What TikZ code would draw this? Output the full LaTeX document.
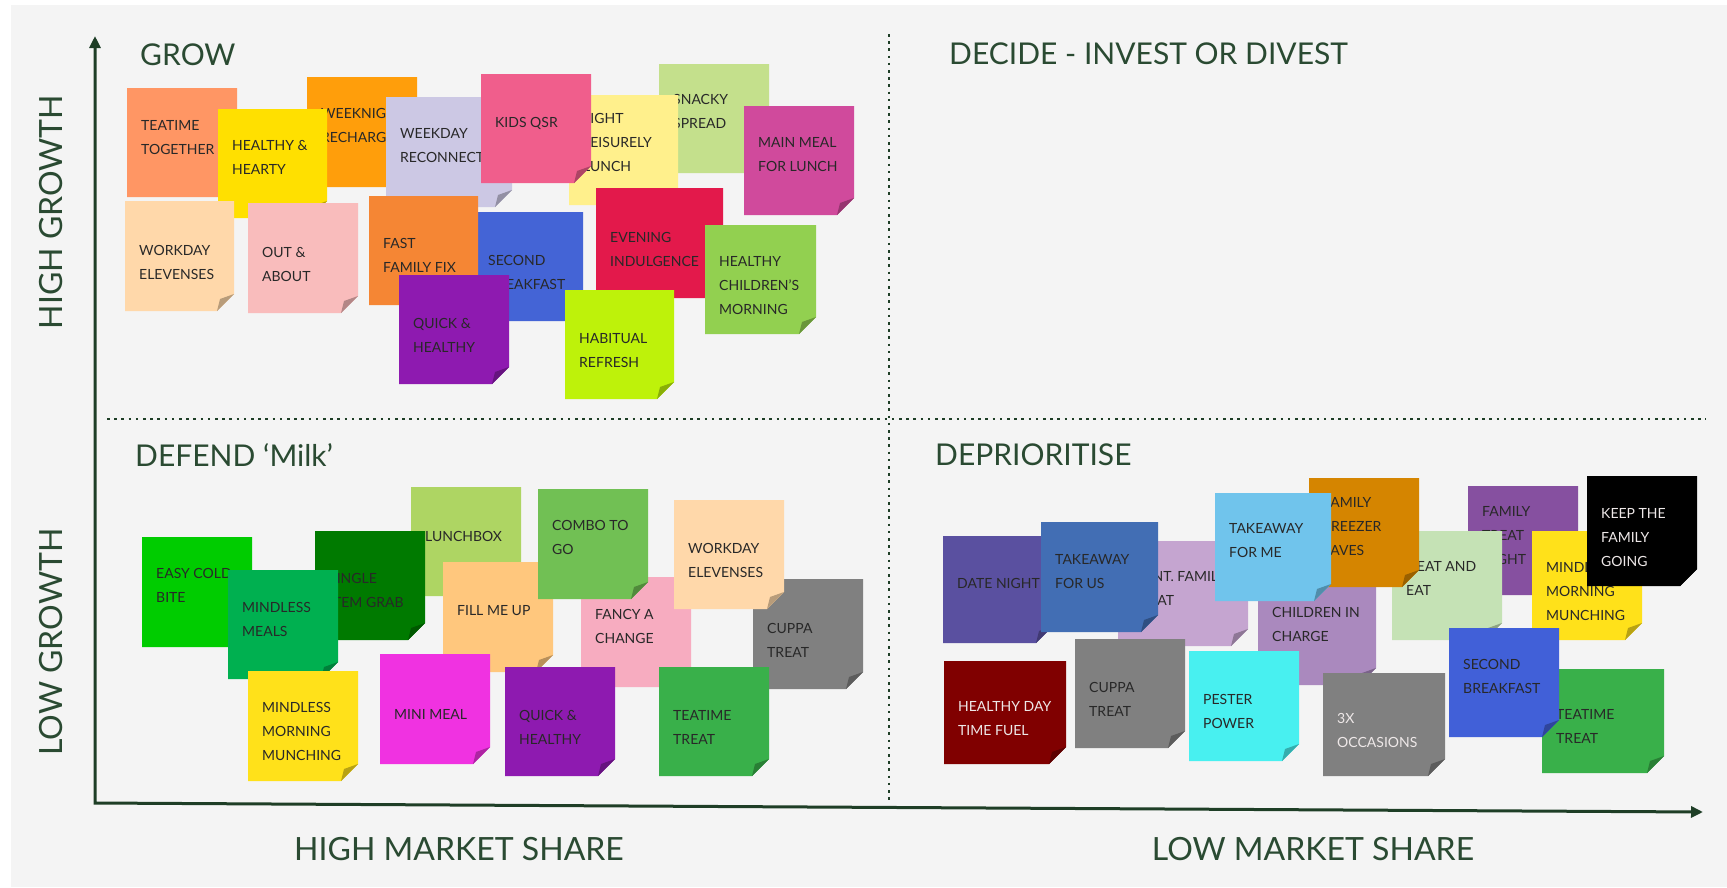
\documentclass[tikz,border=0pt]{standalone}
\usepackage{fontspec}
\setmainfont{Lato}
\usetikzlibrary{arrows.meta}

\definecolor{bggray}{RGB}{244,244,244}
\definecolor{axisgreen}{RGB}{30,62,38}
\definecolor{titlegreen}{RGB}{42,74,50}
\definecolor{notetext}{RGB}{40,40,40}
\definecolor{notewhite}{RGB}{238,232,232}

\definecolor{salmon}{RGB}{255,150,100}
\definecolor{tangerine}{RGB}{255,158,11}
\definecolor{sunyellow}{RGB}{255,224,0}
\definecolor{lavender}{RGB}{204,200,228}
\definecolor{sagegreen}{RGB}{196,224,140}
\definecolor{paleyellow}{RGB}{255,240,140}
\definecolor{rosepink}{RGB}{240,94,140}
\definecolor{magentapink}{RGB}{208,74,156}
\definecolor{peach}{RGB}{255,216,170}
\definecolor{blush}{RGB}{249,188,188}
\definecolor{royalblue}{RGB}{68,100,214}
\definecolor{orangefix}{RGB}{245,134,52}
\definecolor{violet}{RGB}{142,26,176}
\definecolor{crimson}{RGB}{227,25,75}
\definecolor{leafgreen}{RGB}{146,208,80}
\definecolor{limegreen}{RGB}{190,242,10}
\definecolor{brightgreen}{RGB}{0,204,0}
\definecolor{applegreen}{RGB}{174,213,99}
\definecolor{forestgreen}{RGB}{0,122,0}
\definecolor{emerald}{RGB}{0,176,80}
\definecolor{apricot}{RGB}{255,199,125}
\definecolor{lemon}{RGB}{255,225,26}
\definecolor{fuchsia}{RGB}{240,50,225}
\definecolor{candypink}{RGB}{247,172,192}
\definecolor{grassgreen}{RGB}{113,192,84}
\definecolor{slategray}{RGB}{128,128,128}
\definecolor{teagreen}{RGB}{57,176,74}
\definecolor{indigo}{RGB}{90,80,160}
\definecolor{lilac}{RGB}{197,165,208}
\definecolor{steelblue}{RGB}{66,110,180}
\definecolor{maroon}{RGB}{128,0,0}
\definecolor{plum}{RGB}{134,80,160}
\definecolor{mint}{RGB}{197,226,181}
\definecolor{mauve}{RGB}{170,137,190}
\definecolor{amber}{RGB}{213,133,0}
\definecolor{skyblue}{RGB}{112,196,236}
\definecolor{aqua}{RGB}{72,240,240}
\definecolor{cobalt}{RGB}{65,96,216}

\tikzset{
  notelabel/.style={anchor=base west,inner sep=0pt,
    font=\fontsize{14}{24}\selectfont},
  quadtitle/.style={anchor=base west,inner sep=0pt,text=titlegreen,
    font=\fontsize{30}{36}\selectfont},
  axislabel/.style={anchor=base,inner sep=0pt,text=titlegreen,
    font=\fontsize{32}{38}\selectfont},
  axis/.style={axisgreen,line width=3pt},
  divider/.style={axisgreen,line width=2.6pt,dash pattern=on 2.6pt off 4.6pt}
}

% sticky note: [text colour]{name}{x}{y}{w}{h}{colour}{first baseline}{text}
\newcommand{\stickynote}[9][notetext]{%
  \fill[#7] (#3,#4) -- ++(#5,0) -- ++(0,#6-17) -- ++(-17,17) -- ++(-#5+17,0) -- cycle;
  \fill[#7!72!black] (#3+#5,#4+#6-17) -- (#3+#5-17,#4+#6) -- (#3+#5-14,#4+#6-12) -- cycle;
  \node[notelabel,text=#1] (#2) at (#3+14,#4+#8)
    {\begin{tabular}[t]{@{}l@{}}#9\end{tabular}};
}

\begin{document}
\begin{tikzpicture}[x=1pt,y={(0pt,-1pt)}]

\useasboundingbox (0,0) rectangle (1727,887);
\fill[white] (0,0) rectangle (1727,887);
\fill[bggray] (11,5) rectangle (1727,887);

% axes and quadrant lines
\coordinate (ytip) at (95,36);
\coordinate (origin) at (95,803);
\coordinate (xtip) at (1703,812);
\coordinate (vtop) at (889,34);
\coordinate (vbot) at (889,803);
\coordinate (hleft) at (107,419);
\coordinate (hright) at (1706,419);

\draw[divider] (vtop) -- (vbot);
\draw[divider] (hleft) -- (hright);
\draw[axis,{Triangle[width=11pt,length=12pt]}-{Triangle[width=11pt,length=12pt]}] (ytip) -- (origin) -- (xtip);

% quadrant titles
\node[quadtitle] (grow) at (140,65) {GROW};
\node[quadtitle] (decide) at (949,64) {DECIDE - INVEST OR DIVEST};
\node[quadtitle] (defend) at (135,466) {DEFEND ‘Milk’};
\node[quadtitle] (deprio) at (935,465) {DEPRIORITISE};

% axis labels
\node[axislabel] (highshare) at (459,860) {HIGH MARKET SHARE};
\node[axislabel] (lowshare) at (1313,860) {LOW MARKET SHARE};
\node[axislabel,rotate=90] (highgrowth) at (62,212) {HIGH GROWTH};
\node[axislabel,rotate=90] (lowgrowth) at (62,642) {LOW GROWTH};

% grow
\stickynote{teatimeTogether}{127}{88}{110}{109}{salmon}{42}{TEATIME\\TOGETHER}
\stickynote{weeknightRecharge}{307}{77}{110}{110}{tangerine}{41}{WEEKNIGHT\\RECHARGE}
\stickynote{healthyHearty}{218}{109}{109}{109}{sunyellow}{41}{HEALTHY \&\\HEARTY}
\stickynote{weekdayReconnect}{386}{97}{126}{110}{lavender}{41}{WEEKDAY\\RECONNECT}
\stickynote{snackySpread}{659}{64}{110}{109}{sagegreen}{40}{SNACKY\\SPREAD}
\stickynote{lightLunch}{569}{95}{109}{110}{paleyellow}{28}{LIGHT\\LEISURELY\\LUNCH}
\stickynote{kidsQsr}{481}{74}{110}{109}{rosepink}{53}{KIDS QSR}
\stickynote{mainMeal}{744}{106}{110}{109}{magentapink}{41}{MAIN MEAL\\FOR LUNCH}
\stickynote{workdayElevenses}{125}{201}{109}{110}{peach}{54}{WORKDAY\\ELEVENSES}
\stickynote{outAbout}{248}{203}{110}{110}{blush}{54}{OUT \&\\ABOUT}
\stickynote{secondBreakfast}{474}{212}{109}{109}{royalblue}{53}{SECOND\\BREAKFAST}
\stickynote{fastFamilyFix}{369}{196}{109}{109}{orangefix}{52}{FAST\\FAMILY FIX}
\stickynote{quickHealthy}{399}{275}{110}{109}{violet}{53}{QUICK \&\\HEALTHY}
\stickynote{eveningIndulgence}{596}{188}{127}{110}{crimson}{54}{EVENING\\INDULGENCE}
\stickynote{healthyChildren}{705}{225}{111}{109}{leafgreen}{41}{HEALTHY\\CHILDREN'S\\MORNING}
\stickynote{habitualRefresh}{565}{290}{109}{109}{limegreen}{53}{HABITUAL\\REFRESH}

% defend
\stickynote{easyColdBite}{142}{537}{110}{110}{brightgreen}{41}{EASY COLD\\BITE}
\stickynote{lunchbox}{411}{487}{110}{109}{applegreen}{54}{LUNCHBOX}
\stickynote{singleItemGrab}{315}{531}{110}{109}{forestgreen}{52}{SINGLE\\ITEM GRAB}
\stickynote{mindlessMeals}{228}{570}{110}{109}{emerald}{42}{MINDLESS\\MEALS}
\stickynote{fillMeUp}{443}{562}{110}{110}{apricot}{53}{FILL ME UP}
\stickynote{fancyChange}{581}{577}{110}{110}{candypink}{42}{FANCY A\\CHANGE}
\stickynote{comboToGo}{538}{489}{110}{110}{grassgreen}{41}{COMBO TO\\GO}
\stickynote{mindlessMunchingA}{248}{671}{110}{110}{lemon}{41}{MINDLESS\\MORNING\\MUNCHING}
\stickynote{miniMeal}{380}{654}{110}{110}{fuchsia}{65}{MINI MEAL}
\stickynote{quickHealthyB}{505}{667}{110}{109}{violet}{53}{QUICK \&\\HEALTHY}
\stickynote{cuppaTreatA}{753}{579}{110}{110}{slategray}{54}{CUPPA\\TREAT}
\stickynote{workdayElevensesB}{674}{500}{110}{109}{peach}{53}{WORKDAY\\ELEVENSES}
\stickynote{teatimeTreatA}{659}{667}{110}{109}{teagreen}{53}{TEATIME\\TREAT}

% deprioritise
\stickynote{dateNight}{943}{536}{110}{107}{indigo}{52}{DATE NIGHT}
\stickynote{contFamilyTreat}{1118}{541}{130}{105}{lilac}{40}{CONT. FAMILY\\TREAT}
\stickynote{takeawayForUs}{1041}{522}{117}{110}{steelblue}{42}{TAKEAWAY\\FOR US}
\stickynote[notewhite]{healthyDayFuel}{944}{661}{122}{103}{maroon}{50}{HEALTHY DAY\\TIME FUEL}
\stickynote{cuppaTreatB}{1075}{639}{110}{109}{slategray}{53}{CUPPA\\TREAT}
\stickynote{familyTreatNight}{1468}{486}{110}{109}{plum}{30}{FAMILY\\TREAT\\NIGHT}
\stickynote{heatAndEat}{1392}{531}{110}{109}{mint}{40}{HEAT AND\\EAT}
\stickynote{childrenInCharge}{1258}{575}{118}{110}{mauve}{42}{CHILDREN IN\\CHARGE}
\stickynote{familyFreezerFaves}{1309}{478}{110}{109}{amber}{29}{FAMILY\\FREEZER\\FAVES}
\stickynote{takeawayForMe}{1215}{493}{116}{108}{skyblue}{40}{TAKEAWAY\\FOR ME}
\stickynote{pesterPower}{1189}{651}{110}{110}{aqua}{53}{PESTER\\POWER}
\stickynote[notewhite]{threeXOccasions}{1323}{673}{122}{103}{slategray}{50}{3X\\OCCASIONS}
\stickynote{mindlessMunchingB}{1532}{531}{110}{109}{lemon}{41}{MINDLESS\\MORNING\\MUNCHING}
\stickynote[notewhite]{keepFamilyGoing}{1587}{476}{110}{110}{black}{42}{KEEP THE\\FAMILY\\GOING}
\stickynote{teatimeTreatB}{1542}{669}{122}{104}{teagreen}{50}{TEATIME\\TREAT}
\stickynote{secondBreakfastB}{1449}{628}{110}{109}{cobalt}{41}{SECOND\\BREAKFAST}

\end{tikzpicture}
\end{document}
